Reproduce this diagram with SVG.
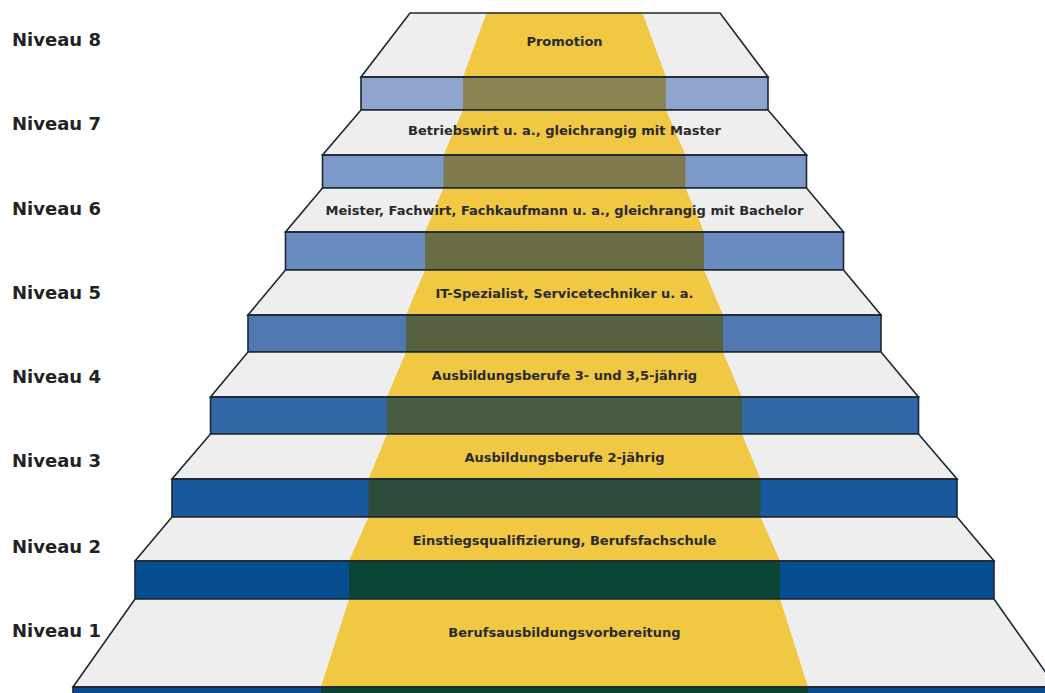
<svg xmlns="http://www.w3.org/2000/svg" width="1045" height="693" viewBox="0 0 1045 693">
<style>
.bg{fill:#ffffff}
.tread{fill:#eeeeef}
.band{fill:#f1c844}
.edge{fill:none;stroke:#1c2733;stroke-width:1.6;stroke-linejoin:miter}
.niv{font-family:"DejaVu Sans",sans-serif;font-weight:bold;font-size:18px;fill:#222222}
.lbl{font-family:"DejaVu Sans",sans-serif;font-weight:bold;font-size:13px;fill:#2a2a2a;text-anchor:middle}
.r8{fill:#8fa5cd}.o8{fill:#8c8352}
.r7{fill:#7d99c8}.o7{fill:#7f7a4d}
.r6{fill:#6a8bbf}.o6{fill:#6b6d45}
.r5{fill:#4f78b1}.o5{fill:#55613f}
.r4{fill:#3268a8}.o4{fill:#475c43}
.r3{fill:#17599f}.o3{fill:#2e4c3c}
.r2{fill:#064d92}.o2{fill:#0b4536}
.r1{fill:#084a8c}.o1{fill:#0d4233}
</style>
<rect class="bg" x="0" y="0" width="1045" height="693"/>

<g id="step8">
<polygon class="tread" points="410,13 720,13 768,77 361,77"/>
<polygon class="band" points="486.5,13 642.5,13 666,77 463,77"/>
<rect class="r8" x="361" y="77" width="407" height="33"/>
<rect class="o8" x="463" y="77" width="203" height="33"/>
<polygon class="edge" points="410,13 720,13 768,77 361,77"/>
<rect class="edge" x="361" y="77" width="407" height="33"/>
<text class="lbl" x="564.5" y="46">Promotion</text>
</g>

<g id="step7">
<polygon class="tread" points="361,110 768,110 806.5,155 322.5,155"/>
<polygon class="band" points="463,110 666,110 685.5,155 443.5,155"/>
<rect class="r7" x="322.5" y="155" width="484" height="33"/>
<rect class="o7" x="443.5" y="155" width="242" height="33"/>
<polygon class="edge" points="361,110 768,110 806.5,155 322.5,155"/>
<rect class="edge" x="322.5" y="155" width="484" height="33"/>
<text class="lbl" x="564.5" y="135">Betriebswirt u. a., gleichrangig mit Master</text>
</g>

<g id="step6">
<polygon class="tread" points="322.5,188 806.5,188 843.5,232 285.5,232"/>
<polygon class="band" points="443.5,188 685.5,188 704,232 425,232"/>
<rect class="r6" x="285.5" y="232" width="558" height="38"/>
<rect class="o6" x="425" y="232" width="279" height="38"/>
<polygon class="edge" points="322.5,188 806.5,188 843.5,232 285.5,232"/>
<rect class="edge" x="285.5" y="232" width="558" height="38"/>
<text class="lbl" x="564.5" y="215">Meister, Fachwirt, Fachkaufmann u. a., gleichrangig mit Bachelor</text>
</g>

<g id="step5">
<polygon class="tread" points="285.5,270 843.5,270 881,315 248,315"/>
<polygon class="band" points="425,270 704,270 723,315 406,315"/>
<rect class="r5" x="248" y="315" width="633" height="37"/>
<rect class="o5" x="406" y="315" width="317" height="37"/>
<polygon class="edge" points="285.5,270 843.5,270 881,315 248,315"/>
<rect class="edge" x="248" y="315" width="633" height="37"/>
<text class="lbl" x="564.5" y="298">IT-Spezialist, Servicetechniker u. a.</text>
</g>

<g id="step4">
<polygon class="tread" points="248,352 881,352 918.5,397 210.5,397"/>
<polygon class="band" points="406,352 723,352 742,397 387,397"/>
<rect class="r4" x="210.5" y="397" width="708" height="37"/>
<rect class="o4" x="387" y="397" width="355" height="37"/>
<polygon class="edge" points="248,352 881,352 918.5,397 210.5,397"/>
<rect class="edge" x="210.5" y="397" width="708" height="37"/>
<text class="lbl" x="564.5" y="380">Ausbildungsberufe 3- und 3,5-jährig</text>
</g>

<g id="step3">
<polygon class="tread" points="210.5,434 918.5,434 957,479 172,479"/>
<polygon class="band" points="387,434 742,434 760.5,479 368.5,479"/>
<rect class="r3" x="172" y="479" width="785" height="38"/>
<rect class="o3" x="368.5" y="479" width="392" height="38"/>
<polygon class="edge" points="210.5,434 918.5,434 957,479 172,479"/>
<rect class="edge" x="172" y="479" width="785" height="38"/>
<text class="lbl" x="564.5" y="462">Ausbildungsberufe 2-jährig</text>
</g>

<g id="step2">
<polygon class="tread" points="172,517 957,517 994,561 135,561"/>
<polygon class="band" points="368.5,517 760.5,517 780,561 349,561"/>
<rect class="r2" x="135" y="561" width="859" height="38"/>
<rect class="o2" x="349" y="561" width="431" height="38"/>
<polygon class="edge" points="172,517 957,517 994,561 135,561"/>
<rect class="edge" x="135" y="561" width="859" height="38"/>
<text class="lbl" x="564.5" y="545">Einstiegsqualifizierung, Berufsfachschule</text>
</g>

<g id="step1">
<polygon class="tread" points="135,599 994,599 1056,687 73,687"/>
<polygon class="band" points="349,599 780,599 808,687 321,687"/>
<rect class="r1" x="73" y="687" width="983" height="10"/>
<rect class="o1" x="321" y="687" width="487" height="10"/>
<polygon class="edge" points="135,599 994,599 1056,687 73,687"/>
<rect class="edge" x="73" y="687" width="983" height="10"/>
<text class="lbl" x="564.5" y="637">Berufsausbildungsvorbereitung</text>
</g>

<g id="levels">
<text class="niv" x="12" y="46">Niveau 8</text>
<text class="niv" x="12" y="130">Niveau 7</text>
<text class="niv" x="12" y="215">Niveau 6</text>
<text class="niv" x="12" y="299">Niveau 5</text>
<text class="niv" x="12" y="383">Niveau 4</text>
<text class="niv" x="12" y="467">Niveau 3</text>
<text class="niv" x="12" y="553">Niveau 2</text>
<text class="niv" x="12" y="637">Niveau 1</text>
</g>

<g id="connectors"/>
</svg>
